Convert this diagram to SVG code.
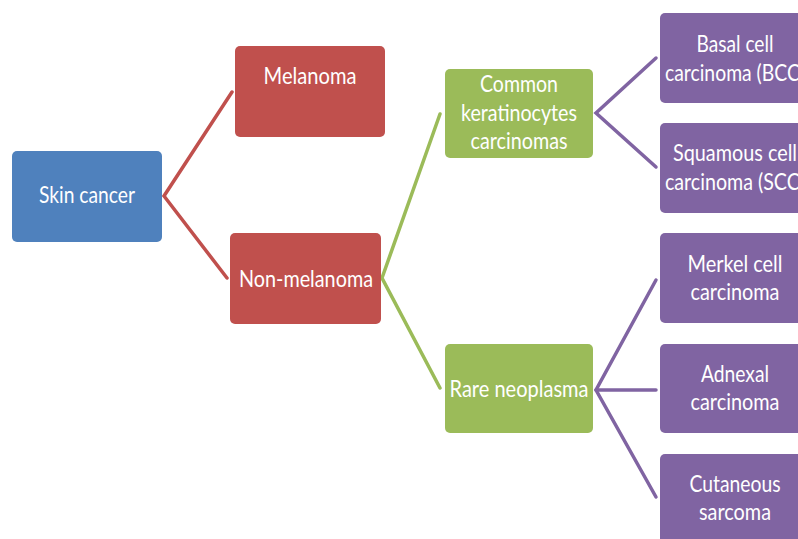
<svg xmlns="http://www.w3.org/2000/svg" width="798" height="539" viewBox="0 0 798 539">
<style>
.t{font-family:Lato,"Open Sans","Liberation Sans",sans-serif;font-size:23px;fill:#ffffff;text-anchor:middle}
.blue{fill:#4F81BD}.red{fill:#C0504D}.green{fill:#9BBB59}.purple{fill:#8064A2}
.c{fill:none;stroke-width:3.5;stroke-linecap:round;stroke-linejoin:miter}
</style>
<rect width="798" height="539" fill="#ffffff"/>
<g id="connectors">
<polyline class="c" stroke="#C0504D" points="232,92 164,196 227,278"/>
<polyline class="c" stroke="#9BBB59" points="440,114 382,278 440,388"/>
<polyline class="c" stroke="#8064A2" points="656,58 596,113 656,167"/>
<polyline class="c" stroke="#8064A2" points="656,280 596,390 656,497"/>
<line class="c" stroke="#8064A2" x1="596" y1="390" x2="656" y2="390"/>
</g>
<g id="skin-cancer">
<rect class="blue" x="12" y="151" width="150" height="91" rx="5"/>
<text class="t" x="87" y="203" textLength="96" lengthAdjust="spacingAndGlyphs">Skin cancer</text>
</g>
<g id="melanoma">
<rect class="red" x="235" y="46" width="150" height="91" rx="5"/>
<text class="t" x="310" y="84" textLength="93" lengthAdjust="spacingAndGlyphs">Melanoma</text>
</g>
<g id="non-melanoma">
<rect class="red" x="230" y="233" width="151" height="91" rx="5"/>
<text class="t" x="306" y="287" textLength="134" lengthAdjust="spacingAndGlyphs">Non-melanoma</text>
</g>
<g id="common">
<rect class="green" x="445" y="69" width="148" height="89" rx="5"/>
<text class="t" x="519" y="92" textLength="78" lengthAdjust="spacingAndGlyphs">Common</text>
<text class="t" x="519" y="121" textLength="116" lengthAdjust="spacingAndGlyphs">keratinocytes</text>
<text class="t" x="519" y="149" textLength="97" lengthAdjust="spacingAndGlyphs">carcinomas</text>
</g>
<g id="rare">
<rect class="green" x="445" y="344" width="148" height="89" rx="5"/>
<text class="t" x="519" y="397" textLength="139" lengthAdjust="spacingAndGlyphs">Rare neoplasma</text>
</g>
<g id="bcc">
<rect class="purple" x="660" y="13" width="150" height="90" rx="5"/>
<text class="t" x="735" y="52" textLength="77" lengthAdjust="spacingAndGlyphs">Basal cell</text>
<text class="t" x="735" y="81" textLength="140" lengthAdjust="spacingAndGlyphs">carcinoma (BCC)</text>
</g>
<g id="scc">
<rect class="purple" x="660" y="123" width="150" height="90" rx="5"/>
<text class="t" x="735" y="161" textLength="124" lengthAdjust="spacingAndGlyphs">Squamous cell</text>
<text class="t" x="735" y="190" textLength="140" lengthAdjust="spacingAndGlyphs">carcinoma (SCC)</text>
</g>
<g id="merkel">
<rect class="purple" x="660" y="233" width="150" height="90" rx="5"/>
<text class="t" x="735" y="272" textLength="95" lengthAdjust="spacingAndGlyphs">Merkel cell</text>
<text class="t" x="735" y="300" textLength="89" lengthAdjust="spacingAndGlyphs">carcinoma</text>
</g>
<g id="adnexal">
<rect class="purple" x="660" y="344" width="150" height="89" rx="5"/>
<text class="t" x="735" y="382" textLength="68" lengthAdjust="spacingAndGlyphs">Adnexal</text>
<text class="t" x="735" y="410" textLength="89" lengthAdjust="spacingAndGlyphs">carcinoma</text>
</g>
<g id="cutaneous">
<rect class="purple" x="660" y="454" width="150" height="95" rx="5"/>
<text class="t" x="735" y="492" textLength="91" lengthAdjust="spacingAndGlyphs">Cutaneous</text>
<text class="t" x="735" y="520" textLength="72" lengthAdjust="spacingAndGlyphs">sarcoma</text>
</g>
</svg>
